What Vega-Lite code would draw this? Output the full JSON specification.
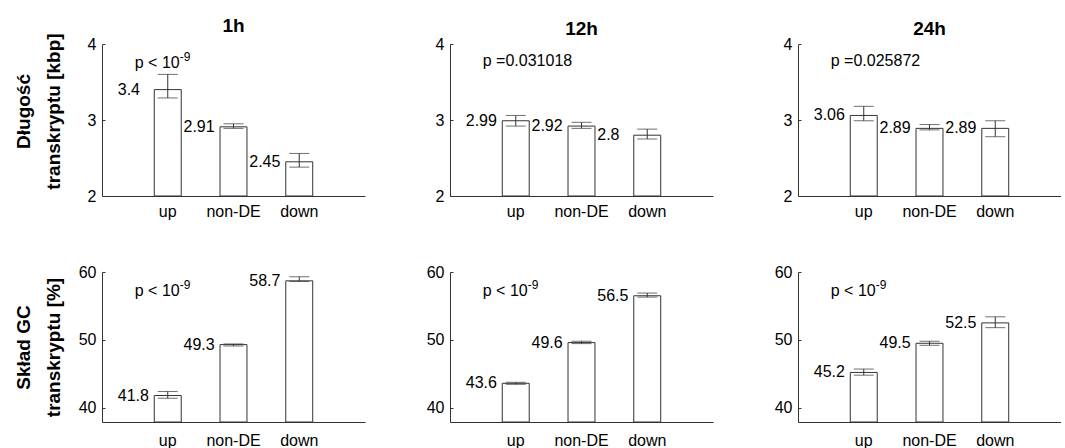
{
  "$schema": "https://vega.github.io/schema/vega-lite/v6.json",
  "background": "white",
  "padding": {"left": 14, "top": 16, "right": 0, "bottom": 0},
  "datasets": {
    "d": [
      {"metric": "len", "time": "1h", "group": "up", "value": 3.4, "lo": 3.29, "hi": 3.6, "p": "p < 10", "sup": "-9"},
      {"metric": "len", "time": "1h", "group": "non-DE", "value": 2.91, "lo": 2.89, "hi": 2.95, "p": null, "sup": null},
      {"metric": "len", "time": "1h", "group": "down", "value": 2.45, "lo": 2.38, "hi": 2.56, "p": null, "sup": null},
      {"metric": "len", "time": "12h", "group": "up", "value": 2.99, "lo": 2.92, "hi": 3.06, "p": "p =0.031018", "sup": ""},
      {"metric": "len", "time": "12h", "group": "non-DE", "value": 2.92, "lo": 2.89, "hi": 2.97, "p": null, "sup": null},
      {"metric": "len", "time": "12h", "group": "down", "value": 2.8, "lo": 2.75, "hi": 2.88, "p": null, "sup": null},
      {"metric": "len", "time": "24h", "group": "up", "value": 3.06, "lo": 2.99, "hi": 3.18, "p": "p =0.025872", "sup": ""},
      {"metric": "len", "time": "24h", "group": "non-DE", "value": 2.89, "lo": 2.87, "hi": 2.94, "p": null, "sup": null},
      {"metric": "len", "time": "24h", "group": "down", "value": 2.89, "lo": 2.78, "hi": 2.99, "p": null, "sup": null},
      {"metric": "gc", "time": "1h", "group": "up", "value": 41.8, "lo": 41.4, "hi": 42.4, "p": "p < 10", "sup": "-9"},
      {"metric": "gc", "time": "1h", "group": "non-DE", "value": 49.3, "lo": 49.1, "hi": 49.4, "p": null, "sup": null},
      {"metric": "gc", "time": "1h", "group": "down", "value": 58.7, "lo": 58.6, "hi": 59.3, "p": null, "sup": null},
      {"metric": "gc", "time": "12h", "group": "up", "value": 43.6, "lo": 43.45, "hi": 43.75, "p": "p < 10", "sup": "-9"},
      {"metric": "gc", "time": "12h", "group": "non-DE", "value": 49.6, "lo": 49.45, "hi": 49.8, "p": null, "sup": null},
      {"metric": "gc", "time": "12h", "group": "down", "value": 56.5, "lo": 56.3, "hi": 56.9, "p": null, "sup": null},
      {"metric": "gc", "time": "24h", "group": "up", "value": 45.2, "lo": 44.8, "hi": 45.7, "p": "p < 10", "sup": "-9"},
      {"metric": "gc", "time": "24h", "group": "non-DE", "value": 49.5, "lo": 49.2, "hi": 49.8, "p": null, "sup": null},
      {"metric": "gc", "time": "24h", "group": "down", "value": 52.5, "lo": 51.8, "hi": 53.4, "p": null, "sup": null}
    ]
  },
  "data": {"name": "d"},
  "config": {
    "font": "Liberation Sans",
    "view": {"stroke": null},
    "title": {"fontSize": 19, "fontWeight": "bold", "color": "black", "offset": -3, "frame": "group", "anchor": "middle"},
    "axis": {"grid": false, "domainColor": "#333", "tickColor": "#333", "labelColor": "black", "labelFontSize": 16, "titleColor": "black", "labelFont": "Liberation Sans", "titleFont": "Liberation Sans"},
    "axisX": {"ticks": false, "labelAngle": 0, "labelPadding": 7, "title": null, "labelOverlap": false},
    "axisY": {"tickSize": -3, "labelPadding": 9, "format": "d", "titleFontSize": 19, "titleFontWeight": "bold", "titleLineHeight": 30, "titleBaseline": "bottom"}
  },
  "resolve": {"scale": {"y": "independent"}, "axis": {"y": "independent"}},
  "bounds": "flush",
  "columns": 3,
  "spacing": {"row": 76, "column": 85},
  "concat": [
    {
      "width": 263, "height": 152, "title": "1h",
      "transform": [{"filter": "datum.metric === 'len' && datum.time === '1h'"}],
      "encoding": {"x": {"field": "group", "type": "nominal", "sort": ["up", "non-DE", "down"], "scale": {"domain": ["up", "non-DE", "down"], "paddingInner": 0.59, "paddingOuter": 0.795}}},
      "layer": [
        {"mark": {"type": "bar", "fill": "white", "stroke": "#333", "strokeWidth": 1}, "encoding": {"y": {"field": "value", "type": "quantitative", "scale": {"domain": [2, 4], "zero": false, "nice": false}, "axis": {"values": [2, 3, 4], "title": ["Długość", "transkryptu [kbp]"], "titleX": -69, "titleY": 67}}, "y2": {"datum": 2}}},
        {"mark": {"type": "rule", "stroke": "#333"}, "encoding": {"y": {"field": "lo", "type": "quantitative"}, "y2": {"field": "hi"}}},
        {"mark": {"type": "tick", "size": 20, "thickness": 1, "color": "#333"}, "encoding": {"y": {"field": "lo", "type": "quantitative"}}},
        {"mark": {"type": "tick", "size": 20, "thickness": 1, "color": "#333"}, "encoding": {"y": {"field": "hi", "type": "quantitative"}}},
        {"mark": {"type": "text", "align": "left", "baseline": "middle", "dx": -50, "fontSize": 16}, "encoding": {"y": {"field": "value", "type": "quantitative"}, "text": {"field": "value", "type": "quantitative", "format": ".3~r"}}},
        {"transform": [{"filter": "datum.p != null"}], "mark": {"type": "text", "align": "left", "baseline": "middle", "dx": -33, "dy": 18.5, "fontSize": 16}, "encoding": {"y": {"datum": 4}, "text": {"field": "p"}}},
        {"transform": [{"filter": "datum.p != null"}], "mark": {"type": "text", "align": "left", "baseline": "middle", "dx": 12, "dy": 13, "fontSize": 12}, "encoding": {"y": {"datum": 4}, "text": {"field": "sup"}}}
      ]
    },
    {
      "width": 263, "height": 152, "title": "12h",
      "transform": [{"filter": "datum.metric === 'len' && datum.time === '12h'"}],
      "encoding": {"x": {"field": "group", "type": "nominal", "sort": ["up", "non-DE", "down"], "scale": {"domain": ["up", "non-DE", "down"], "paddingInner": 0.59, "paddingOuter": 0.795}}},
      "layer": [
        {"mark": {"type": "bar", "fill": "white", "stroke": "#333", "strokeWidth": 1}, "encoding": {"y": {"field": "value", "type": "quantitative", "scale": {"domain": [2, 4], "zero": false, "nice": false}, "axis": {"values": [2, 3, 4], "title": null}}, "y2": {"datum": 2}}},
        {"mark": {"type": "rule", "stroke": "#333"}, "encoding": {"y": {"field": "lo", "type": "quantitative"}, "y2": {"field": "hi"}}},
        {"mark": {"type": "tick", "size": 20, "thickness": 1, "color": "#333"}, "encoding": {"y": {"field": "lo", "type": "quantitative"}}},
        {"mark": {"type": "tick", "size": 20, "thickness": 1, "color": "#333"}, "encoding": {"y": {"field": "hi", "type": "quantitative"}}},
        {"mark": {"type": "text", "align": "left", "baseline": "middle", "dx": -50, "fontSize": 16}, "encoding": {"y": {"field": "value", "type": "quantitative"}, "text": {"field": "value", "type": "quantitative", "format": ".3~r"}}},
        {"transform": [{"filter": "datum.p != null"}], "mark": {"type": "text", "align": "left", "baseline": "middle", "dx": -33, "dy": 17, "fontSize": 16}, "encoding": {"y": {"datum": 4}, "text": {"field": "p"}}}
      ]
    },
    {
      "width": 263, "height": 152, "title": "24h",
      "transform": [{"filter": "datum.metric === 'len' && datum.time === '24h'"}],
      "encoding": {"x": {"field": "group", "type": "nominal", "sort": ["up", "non-DE", "down"], "scale": {"domain": ["up", "non-DE", "down"], "paddingInner": 0.59, "paddingOuter": 0.795}}},
      "layer": [
        {"mark": {"type": "bar", "fill": "white", "stroke": "#333", "strokeWidth": 1}, "encoding": {"y": {"field": "value", "type": "quantitative", "scale": {"domain": [2, 4], "zero": false, "nice": false}, "axis": {"values": [2, 3, 4], "title": null}}, "y2": {"datum": 2}}},
        {"mark": {"type": "rule", "stroke": "#333"}, "encoding": {"y": {"field": "lo", "type": "quantitative"}, "y2": {"field": "hi"}}},
        {"mark": {"type": "tick", "size": 20, "thickness": 1, "color": "#333"}, "encoding": {"y": {"field": "lo", "type": "quantitative"}}},
        {"mark": {"type": "tick", "size": 20, "thickness": 1, "color": "#333"}, "encoding": {"y": {"field": "hi", "type": "quantitative"}}},
        {"mark": {"type": "text", "align": "left", "baseline": "middle", "dx": -50, "fontSize": 16}, "encoding": {"y": {"field": "value", "type": "quantitative"}, "text": {"field": "value", "type": "quantitative", "format": ".3~r"}}},
        {"transform": [{"filter": "datum.p != null"}], "mark": {"type": "text", "align": "left", "baseline": "middle", "dx": -33, "dy": 17, "fontSize": 16}, "encoding": {"y": {"datum": 4}, "text": {"field": "p"}}}
      ]
    },
    {
      "width": 263, "height": 150,
      "transform": [{"filter": "datum.metric === 'gc' && datum.time === '1h'"}],
      "encoding": {"x": {"field": "group", "type": "nominal", "sort": ["up", "non-DE", "down"], "scale": {"domain": ["up", "non-DE", "down"], "paddingInner": 0.59, "paddingOuter": 0.795}, "axis": {"labelPadding": 10}}},
      "layer": [
        {"mark": {"type": "bar", "fill": "white", "stroke": "#333", "strokeWidth": 1}, "encoding": {"y": {"field": "value", "type": "quantitative", "scale": {"domain": [37.9, 60], "zero": false, "nice": false}, "axis": {"values": [40, 50, 60], "title": ["Skład GC", "transkryptu [%]"], "titleX": -69, "titleY": 75}}, "y2": {"datum": 37.9}}},
        {"mark": {"type": "rule", "stroke": "#333"}, "encoding": {"y": {"field": "lo", "type": "quantitative"}, "y2": {"field": "hi"}}},
        {"mark": {"type": "tick", "size": 20, "thickness": 1, "color": "#333"}, "encoding": {"y": {"field": "lo", "type": "quantitative"}}},
        {"mark": {"type": "tick", "size": 20, "thickness": 1, "color": "#333"}, "encoding": {"y": {"field": "hi", "type": "quantitative"}}},
        {"mark": {"type": "text", "align": "left", "baseline": "middle", "dx": -50, "fontSize": 16}, "encoding": {"y": {"field": "value", "type": "quantitative"}, "text": {"field": "value", "type": "quantitative", "format": ".3~r"}}},
        {"transform": [{"filter": "datum.p != null"}], "mark": {"type": "text", "align": "left", "baseline": "middle", "dx": -33, "dy": 18.5, "fontSize": 16}, "encoding": {"y": {"datum": 60}, "text": {"field": "p"}}},
        {"transform": [{"filter": "datum.p != null"}], "mark": {"type": "text", "align": "left", "baseline": "middle", "dx": 12, "dy": 13, "fontSize": 12}, "encoding": {"y": {"datum": 60}, "text": {"field": "sup"}}}
      ]
    },
    {
      "width": 263, "height": 150,
      "transform": [{"filter": "datum.metric === 'gc' && datum.time === '12h'"}],
      "encoding": {"x": {"field": "group", "type": "nominal", "sort": ["up", "non-DE", "down"], "scale": {"domain": ["up", "non-DE", "down"], "paddingInner": 0.59, "paddingOuter": 0.795}, "axis": {"labelPadding": 10}}},
      "layer": [
        {"mark": {"type": "bar", "fill": "white", "stroke": "#333", "strokeWidth": 1}, "encoding": {"y": {"field": "value", "type": "quantitative", "scale": {"domain": [37.9, 60], "zero": false, "nice": false}, "axis": {"values": [40, 50, 60], "title": null}}, "y2": {"datum": 37.9}}},
        {"mark": {"type": "rule", "stroke": "#333"}, "encoding": {"y": {"field": "lo", "type": "quantitative"}, "y2": {"field": "hi"}}},
        {"mark": {"type": "tick", "size": 20, "thickness": 1, "color": "#333"}, "encoding": {"y": {"field": "lo", "type": "quantitative"}}},
        {"mark": {"type": "tick", "size": 20, "thickness": 1, "color": "#333"}, "encoding": {"y": {"field": "hi", "type": "quantitative"}}},
        {"mark": {"type": "text", "align": "left", "baseline": "middle", "dx": -50, "fontSize": 16}, "encoding": {"y": {"field": "value", "type": "quantitative"}, "text": {"field": "value", "type": "quantitative", "format": ".3~r"}}},
        {"transform": [{"filter": "datum.p != null"}], "mark": {"type": "text", "align": "left", "baseline": "middle", "dx": -33, "dy": 18.5, "fontSize": 16}, "encoding": {"y": {"datum": 60}, "text": {"field": "p"}}},
        {"transform": [{"filter": "datum.p != null"}], "mark": {"type": "text", "align": "left", "baseline": "middle", "dx": 12, "dy": 13, "fontSize": 12}, "encoding": {"y": {"datum": 60}, "text": {"field": "sup"}}}
      ]
    },
    {
      "width": 263, "height": 150,
      "transform": [{"filter": "datum.metric === 'gc' && datum.time === '24h'"}],
      "encoding": {"x": {"field": "group", "type": "nominal", "sort": ["up", "non-DE", "down"], "scale": {"domain": ["up", "non-DE", "down"], "paddingInner": 0.59, "paddingOuter": 0.795}, "axis": {"labelPadding": 10}}},
      "layer": [
        {"mark": {"type": "bar", "fill": "white", "stroke": "#333", "strokeWidth": 1}, "encoding": {"y": {"field": "value", "type": "quantitative", "scale": {"domain": [37.9, 60], "zero": false, "nice": false}, "axis": {"values": [40, 50, 60], "title": null}}, "y2": {"datum": 37.9}}},
        {"mark": {"type": "rule", "stroke": "#333"}, "encoding": {"y": {"field": "lo", "type": "quantitative"}, "y2": {"field": "hi"}}},
        {"mark": {"type": "tick", "size": 20, "thickness": 1, "color": "#333"}, "encoding": {"y": {"field": "lo", "type": "quantitative"}}},
        {"mark": {"type": "tick", "size": 20, "thickness": 1, "color": "#333"}, "encoding": {"y": {"field": "hi", "type": "quantitative"}}},
        {"mark": {"type": "text", "align": "left", "baseline": "middle", "dx": -50, "fontSize": 16}, "encoding": {"y": {"field": "value", "type": "quantitative"}, "text": {"field": "value", "type": "quantitative", "format": ".3~r"}}},
        {"transform": [{"filter": "datum.p != null"}], "mark": {"type": "text", "align": "left", "baseline": "middle", "dx": -33, "dy": 18.5, "fontSize": 16}, "encoding": {"y": {"datum": 60}, "text": {"field": "p"}}},
        {"transform": [{"filter": "datum.p != null"}], "mark": {"type": "text", "align": "left", "baseline": "middle", "dx": 12, "dy": 13, "fontSize": 12}, "encoding": {"y": {"datum": 60}, "text": {"field": "sup"}}}
      ]
    }
  ]
}
